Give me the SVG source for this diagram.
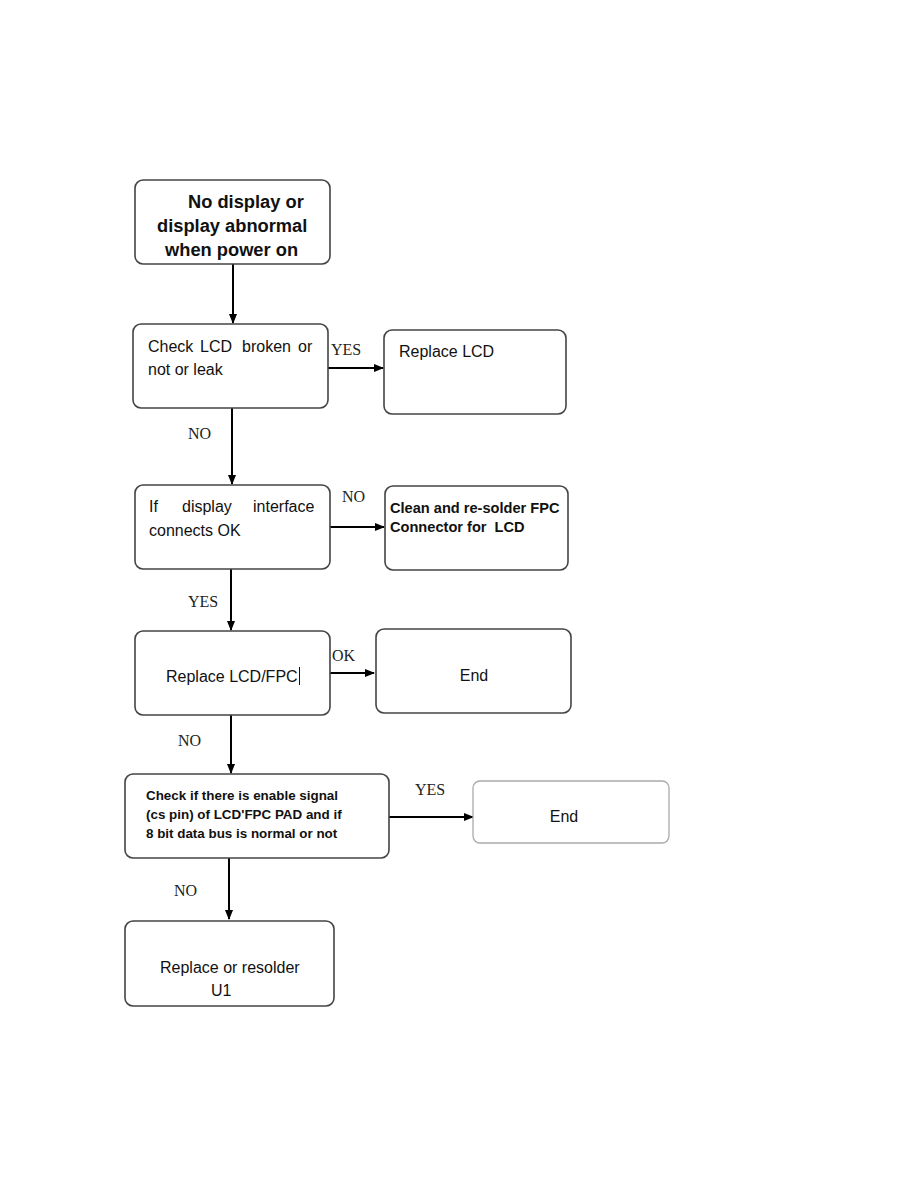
<svg xmlns="http://www.w3.org/2000/svg" width="918" height="1188" viewBox="0 0 918 1188">
<defs>
<marker id="ah" markerWidth="10" markerHeight="8" refX="9" refY="4" orient="auto" markerUnits="userSpaceOnUse">
<path d="M0,0 L10,4 L0,8 Z" fill="#000"/>
</marker>
<style>
.box{fill:#fff;stroke:#444;stroke-width:1.6}
.lbox{fill:#fff;stroke:#aaa;stroke-width:1.3}
.t{font-family:"Liberation Sans",Arial,sans-serif;font-size:16px;fill:#111}
.tb{font-family:"Liberation Sans",Arial,sans-serif;font-size:18.3px;font-weight:bold;fill:#111}
.ts{font-family:"Liberation Sans",Arial,sans-serif;font-size:14.6px;font-weight:bold;fill:#111}
.ts2{font-family:"Liberation Sans",Arial,sans-serif;font-size:13.4px;font-weight:bold;fill:#111}
.lab{font-family:"Liberation Serif","Times New Roman",serif;font-size:16px;fill:#222}
.c{stroke:#000;stroke-width:2;fill:none}
</style>
</defs>
<rect width="918" height="1188" fill="#fff"/>
<g id="connectors">
<line class="c" x1="233" y1="264" x2="233" y2="323" marker-end="url(#ah)"/>
<line class="c" x1="328" y1="368" x2="383" y2="368" marker-end="url(#ah)"/>
<line class="c" x1="232" y1="408" x2="232" y2="484" marker-end="url(#ah)"/>
<line class="c" x1="330" y1="527" x2="384" y2="527" marker-end="url(#ah)"/>
<line class="c" x1="231" y1="569" x2="231" y2="630" marker-end="url(#ah)"/>
<line class="c" x1="330" y1="673" x2="374" y2="673" marker-end="url(#ah)"/>
<line class="c" x1="231" y1="715" x2="231" y2="773" marker-end="url(#ah)"/>
<line class="c" x1="389" y1="817" x2="473" y2="817" marker-end="url(#ah)"/>
<line class="c" x1="229" y1="858" x2="229" y2="919" marker-end="url(#ah)"/>
<text class="lab" x="331" y="355">YES</text>
<text class="lab" x="188" y="439">NO</text>
<text class="lab" x="342" y="502">NO</text>
<text class="lab" x="188" y="607">YES</text>
<text class="lab" x="332" y="661">OK</text>
<text class="lab" x="178" y="746">NO</text>
<text class="lab" x="415" y="795">YES</text>
<text class="lab" x="174" y="896">NO</text>
</g>
<g id="n1">
<rect class="box" x="135" y="180" width="195" height="84" rx="8"/>
<text class="tb" x="188" y="208">No display or</text>
<text class="tb" x="157" y="232">display abnormal</text>
<text class="tb" x="165" y="256">when power on</text>
</g>
<g id="n2">
<rect class="box" x="133" y="324" width="195" height="84" rx="8"/>
<text class="t" y="352"><tspan x="148">Check</tspan><tspan x="200">LCD</tspan><tspan x="242">broken</tspan><tspan x="298">or</tspan></text>
<text class="t" x="148" y="375">not or leak</text>
</g>
<g id="n3">
<rect class="box" x="384" y="330" width="182" height="84" rx="8"/>
<text class="t" x="399" y="357">Replace LCD</text>
</g>
<g id="n4">
<rect class="box" x="135" y="485" width="195" height="84" rx="8"/>
<text class="t" y="512"><tspan x="149">If</tspan><tspan x="182">display</tspan><tspan x="253">interface</tspan></text>
<text class="t" x="149" y="536">connects OK</text>
</g>
<g id="n5">
<rect class="box" x="385" y="486" width="183" height="84" rx="8"/>
<text class="ts" x="390" y="513">Clean and re-solder FPC</text>
<text class="ts" x="390" y="532" xml:space="preserve">Connector for  LCD</text>
</g>
<g id="n6">
<rect class="box" x="135" y="631" width="195" height="84" rx="8"/>
<text class="t" x="166" y="682">Replace LCD/FPC</text>
<line x1="299.5" y1="667" x2="299.5" y2="685" stroke="#111" stroke-width="1"/>
</g>
<g id="n7">
<rect class="box" x="376" y="629" width="195" height="84" rx="8"/>
<text class="t" x="474" y="681" text-anchor="middle">End</text>
</g>
<g id="n8">
<rect class="box" x="125" y="774" width="264" height="84" rx="8"/>
<text class="ts2" x="146" y="800">Check if there is enable signal</text>
<text class="ts2" x="146" y="819">(cs pin) of LCD'FPC PAD and if</text>
<text class="ts2" x="146" y="838">8 bit data bus is normal or not</text>
</g>
<g id="n9">
<rect class="lbox" x="473" y="781" width="196" height="62" rx="7"/>
<text class="t" x="564" y="822" text-anchor="middle">End</text>
</g>
<g id="n10">
<rect class="box" x="125" y="921" width="209" height="85" rx="8"/>
<text class="t" x="160" y="973">Replace or resolder</text>
<text class="t" x="211" y="996">U1</text>
</g>
</svg>
